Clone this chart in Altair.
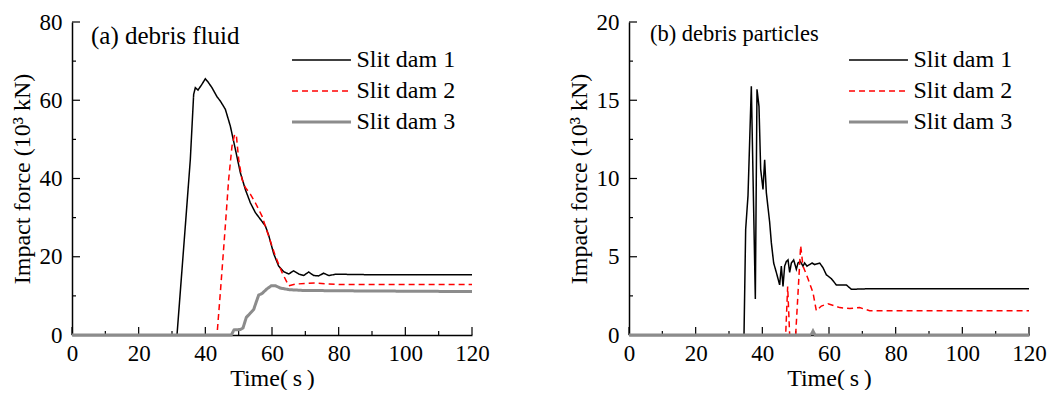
import altair as alt
import pandas as pd

SERIES = ["Slit dam 1", "Slit dam 2", "Slit dam 3"]
COLORS = ["#000000", "#ff0000", "#8c8c8c"]
DASHES = [[1, 0], [6, 4], [1, 0]]
WIDTHS = [1.5, 1.5, 3.0]

# ---- (a) debris fluid ----
a_t1 = [0, 31.5, 34.0, 35.5, 36.5, 37.0, 37.8, 39.0, 40.0, 40.7, 42.0, 43.5, 44.5, 46.0, 47.5,
        49.0, 50.5, 52.0, 53.5, 55.0, 56.5, 58.0, 59.0, 60.5, 62.0, 63.5, 65.0, 66.5, 68.0,
        69.5, 71.0, 72.5, 74.0, 75.5, 77.0, 79.0, 82, 90, 100, 110, 120]
a_f1 = [0, 0, 27.9, 44.9, 61.5, 63.2, 62.6, 64.1, 65.5, 64.8, 63.2, 60.9, 59.8, 57.7, 53.4,
        47.5, 41.5, 37.2, 33.8, 31.3, 29.6, 27.9, 25.5, 20.8, 17.6, 16.2, 15.6, 16.4, 15.6,
        15.2, 16.1, 15.2, 15.1, 15.8, 15.2, 15.5, 15.5, 15.4, 15.4, 15.4, 15.4]
a_t2 = [0, 43.5, 44.5, 46, 47, 48, 48.8, 49.3, 50, 51, 52, 53.5, 55, 57, 59, 61, 63, 65,
        67, 70, 73, 76, 80, 90, 100, 120]
a_f2 = [0, 0, 10.8, 27.9, 39.8, 48.3, 51.3, 51.1, 44.9, 39.8, 37.7, 36.0, 33.8, 30.4, 25.3,
        20.2, 16.0, 12.6, 13.0, 13.2, 13.3, 13.1, 12.9, 12.9, 12.9, 12.9]
a_t3 = [0, 47.8, 48.6, 50.5, 51.3, 52.3, 53.5, 54.5, 55.3, 56.0, 57.0, 58.5, 59.8, 61.0,
        62.5, 65, 69, 80, 100, 120]
a_f3 = [0, 0, 1.3, 1.4, 1.8, 4.5, 5.6, 6.5, 8.5, 10.2, 10.6, 11.8, 12.6, 12.6, 12.0, 11.6,
        11.4, 11.3, 11.2, 11.1]

# ---- (b) debris particles ----
b_t1 = [0, 34.5, 35.0, 35.7, 36.7, 37.9, 38.4, 39.0, 39.5, 40.2, 40.7, 41.2, 42.2, 42.7,
        43.4, 44.2, 45.2, 45.7, 46.2, 46.7, 47.2, 47.7, 48.2, 48.7, 49.4, 50.2, 50.7, 51.4,
        52.2, 52.7, 53.4, 54.2, 54.9, 55.7, 57.2, 58.2, 59.2, 60.7, 62.2, 65.2, 66.7, 71.2,
        80, 100, 120]
b_f1 = [0, 0, 6.75, 8.9, 15.9, 2.3, 15.7, 14.6, 10.6, 9.3, 11.2, 9.1, 7.2, 5.9, 4.6, 4.0,
        3.2, 4.4, 3.1, 4.4, 4.7, 4.8, 4.0, 4.6, 4.8, 4.2, 4.6, 4.7, 4.4, 4.6, 4.4, 4.5, 4.6,
        4.5, 4.6, 4.3, 3.85, 3.6, 3.2, 3.2, 2.92, 2.95, 2.95, 2.95, 2.95]
b_t2 = [0, 47.0, 47.6, 48.2, 50.0, 51.5, 52.2, 53.7, 55.2, 56.2, 57.7, 59.7, 63.2, 66.2,
        69.2, 72.2, 80, 100, 120]
b_f2 = [0, 0, 3.1, 0, 0, 5.7, 4.4, 3.6, 2.7, 1.55, 1.85, 2.0, 1.75, 1.7, 1.75, 1.55, 1.55,
        1.55, 1.55]
b_t3 = [0, 54.6, 55.2, 55.8, 120]
b_f3 = [0, 0, 0.25, 0, 0]

X_MAJOR = [0, 20, 40, 60, 80, 100, 120]
X_MINOR = [10, 30, 50, 70, 90, 110]
A_Y_MAJOR = [0, 20, 40, 60, 80]
A_Y_MINOR = [10, 30, 50, 70]
B_Y_MAJOR = [0, 5, 10, 15, 20]
B_Y_MINOR = [2.5, 7.5, 12.5, 17.5]

FONT = "Liberation Serif"
W, H = 400, 313


def frame(ts, fs):
    rows = []
    for name, t, f in zip(SERIES, ts, fs):
        for ti, fi in zip(t, f):
            rows.append({"series": name, "t": ti, "f": fi})
    return pd.DataFrame(rows)


def panel(df, ymax, ymaj, ymin, title, tsize, tx, ty):
    xs = alt.Scale(domain=[0, 120], nice=False, zero=False)
    ys = alt.Scale(domain=[0, ymax], nice=False)
    # wide, flat legend line: path width = 5*sqrt(size) = 59 px
    leg = alt.Legend(title=None, orient="none", legendX=220, legendY=26,
                     symbolType="M-5,0H5", symbolSize=139, symbolOffset=17.5,
                     labelFont=FONT, labelFontSize=24, labelColor="black",
                     labelOffset=23, rowPadding=7, symbolOpacity=1, labelLimit=300)
    base = alt.Chart(df)
    lines = base.mark_line(interpolate="linear", strokeCap="butt").encode(
        x=alt.X("t:Q", scale=xs,
                axis=alt.Axis(values=X_MAJOR, title="Time(\u2009s\u2009)", tickSize=0,
                              labelPadding=7, titlePadding=1)),
        y=alt.Y("f:Q", scale=ys,
                axis=alt.Axis(values=ymaj, title="Impact force (10\u00b3 kN)", tickSize=0,
                              labelPadding=10, titlePadding=5)),
        color=alt.Color("series:N", scale=alt.Scale(domain=SERIES, range=COLORS), legend=leg),
        strokeDash=alt.StrokeDash("series:N", scale=alt.Scale(domain=SERIES, range=DASHES), legend=leg),
        strokeWidth=alt.StrokeWidth("series:N",
                                    scale=alt.Scale(type="ordinal", domain=SERIES, range=WIDTHS),
                                    legend=leg),
        order=alt.Order("t:Q"),
    )
    xmaj = alt.Chart(pd.DataFrame({"v": X_MAJOR})).mark_rule(color="black", strokeWidth=1.2).encode(
        x=alt.X("v:Q", scale=xs), y=alt.value(H), y2=alt.value(H - 8))
    xmin = alt.Chart(pd.DataFrame({"v": X_MINOR})).mark_rule(color="black", strokeWidth=1.2).encode(
        x=alt.X("v:Q", scale=xs), y=alt.value(H), y2=alt.value(H - 4))
    ymj = alt.Chart(pd.DataFrame({"v": ymaj})).mark_rule(color="black", strokeWidth=1.2).encode(
        y=alt.Y("v:Q", scale=ys), x=alt.value(0), x2=alt.value(8))
    ymn = alt.Chart(pd.DataFrame({"v": ymin})).mark_rule(color="black", strokeWidth=1.2).encode(
        y=alt.Y("v:Q", scale=ys), x=alt.value(0), x2=alt.value(4))
    ttl = alt.Chart(pd.DataFrame({"label": [title]})).mark_text(
        align="left", baseline="alphabetic", font=FONT, fontSize=tsize, color="black").encode(
        text="label:N", x=alt.value(tx), y=alt.value(ty))
    return alt.layer(xmaj, xmin, ymj, ymn, lines, ttl).properties(width=W, height=H)


left = panel(frame([a_t1, a_t2, a_t3], [a_f1, a_f2, a_f3]), 80, A_Y_MAJOR, A_Y_MINOR,
             "(a) debris fluid", 25, 19, 22)
right = panel(frame([b_t1, b_t2, b_t3], [b_f1, b_f2, b_f3]), 20, B_Y_MAJOR, B_Y_MINOR,
              "(b) debris particles", 22.5, 21, 19)

chart = alt.hconcat(left, right, spacing=77).resolve_scale(
    color="independent", strokeDash="independent", strokeWidth="independent",
    x="independent", y="independent"
).resolve_legend(
    color="independent", strokeDash="independent", strokeWidth="independent"
).properties(
    padding={"left": 2, "top": 3, "right": 0, "bottom": 0}
).configure_view(stroke=None).configure_axis(
    grid=False, domainColor="black", domainWidth=1.5, labelFont=FONT, labelFontSize=23,
    labelColor="black", titleFont=FONT, titleFontSize=24, titleFontWeight="normal",
    titleColor="black", labelFlush=False, labelOverlap=False
)

chart.save("out.html", embed_options={"renderer": "svg", "actions": False})
